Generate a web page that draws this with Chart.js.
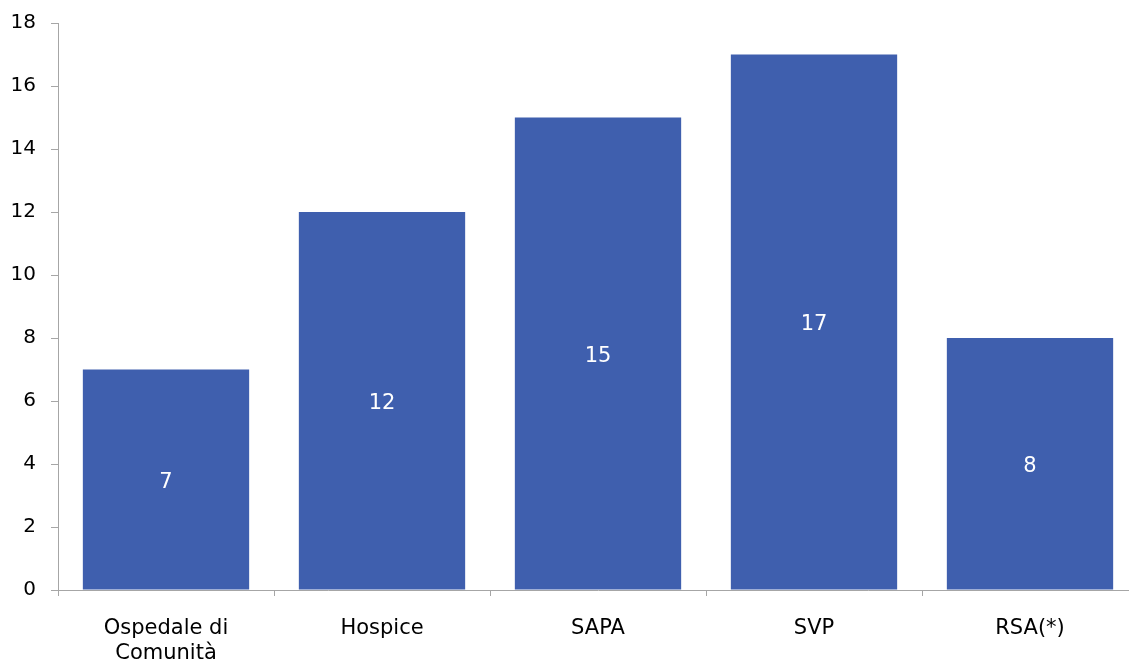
<!DOCTYPE html>
<html>
<head>
<meta charset="utf-8">
<script src="https://cdn.jsdelivr.net/npm/chart.js@4.4.0/dist/chart.umd.min.js"></script>
<style>
  html, body { margin: 0; padding: 0; background: #fff; overflow: hidden; }
  #wrap { width: 1138px; height: 664px; }
</style>
</head>
<body>
<div id="wrap"><canvas id="chart" width="1138" height="664"></canvas></div>
<script>
// Chart data
const categories = [['Ospedale di', 'Comunità'], 'Hospice', 'SAPA', 'SVP', 'RSA(*)'];
const values = [7, 12, 15, 17, 8];
const yTicks = [0, 2, 4, 6, 8, 10, 12, 14, 16, 18];

const axisGray = '#a6a6a6';
const barBlue = '#3f5fae';
const fontFamily = '"DejaVu Sans", Verdana, sans-serif';

// Draw value labels in the middle of each bar
const barLabels = {
    id: 'barLabels',
    afterDatasetsDraw(chart) {
        const ctx = chart.ctx;
        const meta = chart.getDatasetMeta(0);
        ctx.save();
        ctx.fillStyle = '#ffffff';
        ctx.font = '21px ' + fontFamily;
        ctx.textAlign = 'center';
        ctx.textBaseline = 'middle';
        meta.data.forEach((bar, i) => {
            const mid = (bar.y + bar.base) / 2;
            ctx.fillText(String(values[i]), bar.x, mid + 3);
        });
        ctx.restore();
    }
};

const ctx = document.getElementById('chart').getContext('2d');
new Chart(ctx, {
    type: 'bar',
    data: {
        labels: categories,
        datasets: [{
            data: values,
            backgroundColor: barBlue,
            borderWidth: 0,
            categoryPercentage: 0.77,
            barPercentage: 1.0
        }]
    },
    options: {
        responsive: false,
        animation: false,
        layout: { padding: { top: 23, right: 0, left: 0, bottom: 0 } },
        plugins: {
            legend: { display: false },
            tooltip: { enabled: false }
        },
        scales: {
            y: {
                min: 0,
                max: 18,
                afterBuildTicks(scale) {
                    scale.ticks = yTicks.map(v => ({ value: v }));
                },
                afterFit(scale) {
                    scale.width = 58;
                    scale.paddingTop = 0;
                    scale.paddingBottom = 0;
                },
                border: { color: axisGray, width: 1 },
                grid: {
                    drawOnChartArea: false,
                    color: axisGray,
                    tickLength: 7
                },
                ticks: {
                    color: '#000',
                    padding: 15,
                    font: { family: fontFamily, size: 20 }
                }
            },
            x: {
                afterFit(scale) { scale.height = 74; },
                border: { color: axisGray, width: 1 },
                grid: {
                    offset: true,
                    drawOnChartArea: false,
                    color: axisGray,
                    tickLength: 6
                },
                ticks: {
                    color: '#000',
                    padding: 20,
                    maxRotation: 0,
                    autoSkip: false,
                    font: { family: fontFamily, size: 21, lineHeight: 1.2 }
                }
            }
        }
    },
    plugins: [barLabels]
});
</script>
</body>
</html>
